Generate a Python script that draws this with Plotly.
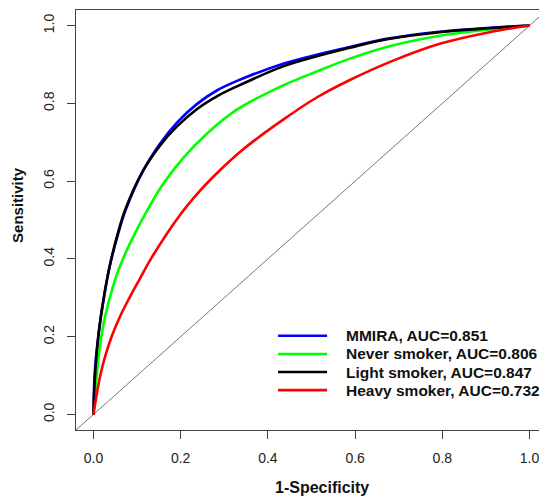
import plotly.graph_objects as go

# ROC curve points (1-specificity, sensitivity)
mmira_fpr = [0.0, 0.003, 0.012, 0.023, 0.037, 0.057, 0.074, 0.1145, 0.153, 0.191, 0.237, 0.283, 0.328, 0.435, 0.512, 0.588, 0.679, 0.794, 0.908, 1.0]
mmira_tpr = [0.0, 0.107, 0.209, 0.295, 0.380, 0.466, 0.526, 0.628, 0.697, 0.750, 0.798, 0.833, 0.857, 0.902, 0.925, 0.945, 0.967, 0.984, 0.994, 1.0]

never_fpr = [0.0, 0.008, 0.014, 0.0245, 0.040, 0.057, 0.078, 0.100, 0.122, 0.160, 0.206, 0.260, 0.328, 0.435, 0.512, 0.588, 0.679, 0.794, 0.908, 1.0]
never_tpr = [0.0, 0.107, 0.167, 0.240, 0.310, 0.370, 0.426, 0.476, 0.522, 0.593, 0.660, 0.722, 0.783, 0.846, 0.882, 0.915, 0.947, 0.974, 0.990, 1.0]

light_fpr = [0.0, 0.004, 0.012, 0.023, 0.037, 0.056, 0.0726, 0.1145, 0.153, 0.191, 0.237, 0.283, 0.328, 0.435, 0.512, 0.588, 0.679, 0.794, 0.908, 1.0]
light_tpr = [0.0, 0.107, 0.209, 0.295, 0.380, 0.466, 0.526, 0.628, 0.692, 0.740, 0.785, 0.818, 0.843, 0.895, 0.921, 0.943, 0.966, 0.983, 0.993, 1.0]

heavy_fpr = [0.0, 0.0153, 0.027, 0.042, 0.061, 0.084, 0.107, 0.130, 0.1985, 0.244, 0.290, 0.340, 0.435, 0.512, 0.588, 0.679, 0.794, 0.908, 1.0]
heavy_tpr = [0.0, 0.098, 0.150, 0.201, 0.252, 0.303, 0.350, 0.397, 0.513, 0.575, 0.628, 0.679, 0.758, 0.815, 0.860, 0.906, 0.953, 0.983, 1.0]

series_names = ["MMIRA, AUC=0.851", "Never smoker, AUC=0.806", "Light smoker, AUC=0.847", "Heavy smoker, AUC=0.732"]
series_colors = ["#0000FF", "#00FF00", "#000000", "#FF0000"]

tick_vals = [0.0, 0.2, 0.4, 0.6, 0.8, 1.0]
tick_text = ["0.0", "0.2", "0.4", "0.6", "0.8", "1.0"]

FONT = "Liberation Sans, Arial, sans-serif"

fig = go.Figure()
data = [(mmira_fpr, mmira_tpr), (never_fpr, never_tpr), (light_fpr, light_tpr), (heavy_fpr, heavy_tpr)]
for (xs, ys), name, col in zip(data, series_names, series_colors):
    fig.add_trace(go.Scatter(x=xs, y=ys, mode="lines", name=name, showlegend=False,
                             line=dict(color=col, width=2.6, shape="spline", smoothing=1.0)))

# diagonal reference line across the plotting region
fig.add_shape(type="line", xref="paper", yref="paper", x0=0, y0=0, x1=1, y1=1,
              line=dict(color="#777777", width=1), layer="below")

# R-style legend without a box: line samples + bold labels
leg_x0, leg_x1, leg_tx = 0.429, 0.533, 0.570
leg_rows = [0.2245, 0.181, 0.138, 0.095]
annotations = []
for name, col, ry in zip(series_names, series_colors, leg_rows):
    fig.add_shape(type="line", xref="paper", yref="paper", x0=leg_x0, x1=leg_x1, y0=ry, y1=ry,
                  line=dict(color=col, width=2.6))
    annotations.append(dict(text="<b>" + name + "</b>", xref="paper", yref="paper", x=leg_tx, y=ry,
                            xanchor="left", yanchor="middle", showarrow=False,
                            font=dict(family=FONT, size=15.5, color="#111111")))

annotations += [
    dict(text="<b>1-Specificity</b>", xref="paper", yref="paper", x=0.522, y=-0.136,
         xanchor="center", yanchor="middle", showarrow=False,
         font=dict(family=FONT, size=16, color="#111111")),
    dict(text="<b>Sensitivity</b>", xref="paper", yref="paper", x=-0.123, y=0.536,
         xanchor="center", yanchor="middle", showarrow=False, textangle=-90,
         font=dict(family=FONT, size=15, color="#111111")),
]

axis_common = dict(showgrid=False, zeroline=False, showline=True, mirror=True,
                   linecolor="#444444", linewidth=1, ticks="outside", ticklen=8,
                   tickcolor="#444444", tickwidth=1, range=[-0.04, 1.04],
                   tickvals=tick_vals, ticktext=tick_text, automargin=False,
                   ticklabelstandoff=7,
                   tickfont=dict(family=FONT, size=14, color="#222222"))

# the page body adds an 8px offset, so the figure is sized to end at the window edge
fig.update_layout(
    width=539, height=488,
    margin=dict(l=68, r=0, t=2, b=66),
    paper_bgcolor="white", plot_bgcolor="white",
    xaxis=dict(**axis_common),
    yaxis=dict(**axis_common, tickangle=-90),
    showlegend=False,
    annotations=annotations,
)

fig.write_html("out.html")
